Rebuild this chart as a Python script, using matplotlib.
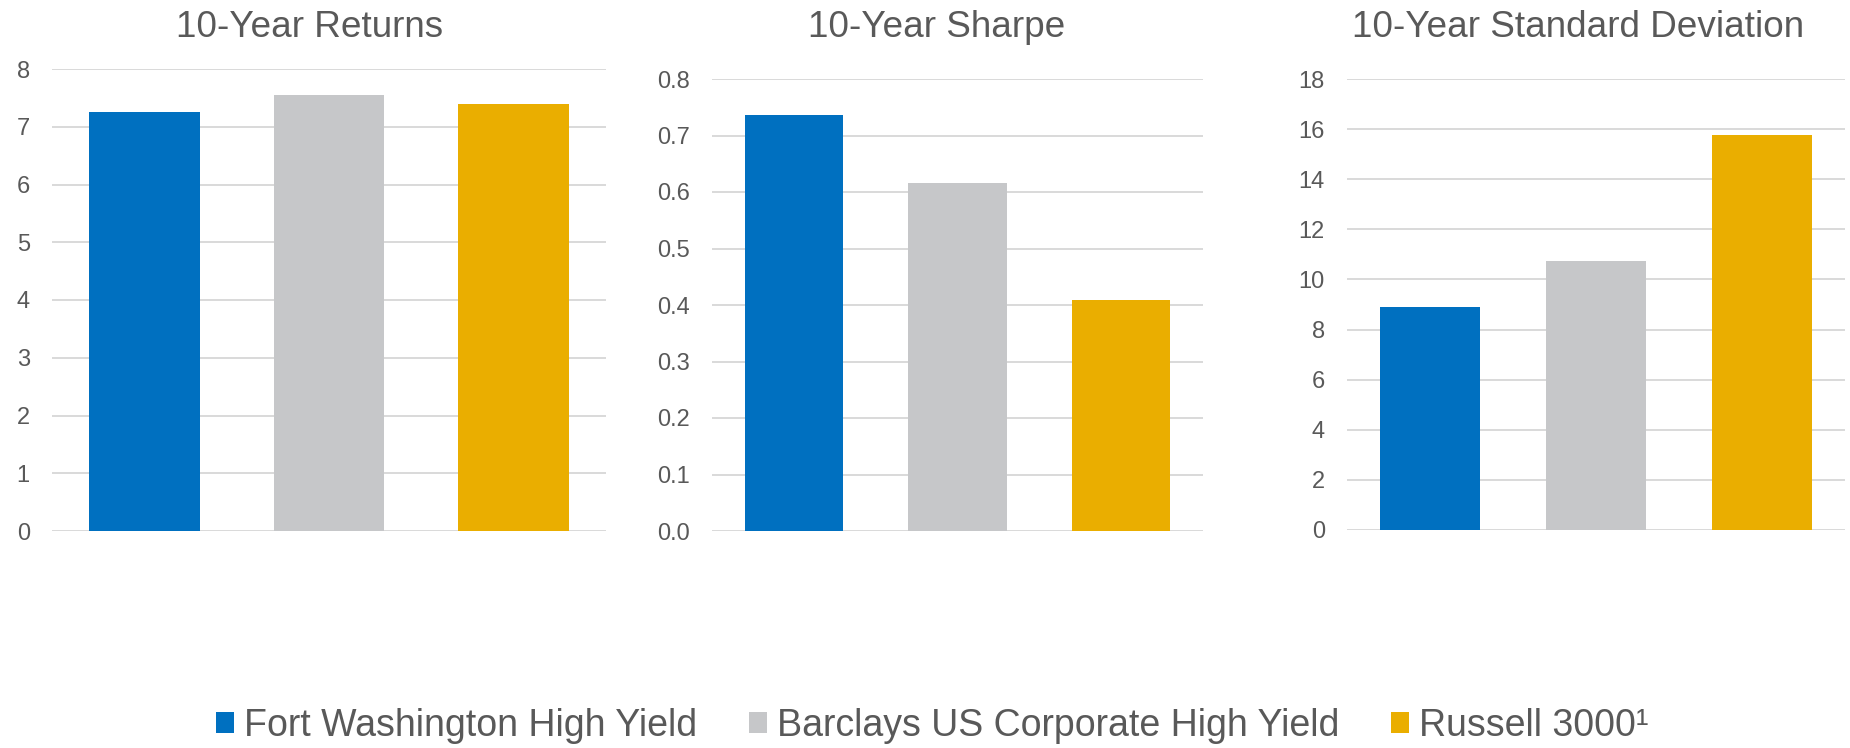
import matplotlib
matplotlib.use("Agg")
import matplotlib.pyplot as plt
from matplotlib.patches import Patch

plt.rcParams['font.family'] = ['Liberation Sans', 'DejaVu Sans']

series = ["Fort Washington High Yield", "Barclays US Corporate High Yield", "Russell 3000\u00b9"]
colors = ["#0070C0", "#C6C7C9", "#EAAE00"]

titles = ["10-Year Returns", "10-Year Sharpe", "10-Year Standard Deviation"]
returns = [7.25, 7.55, 7.40]
sharpe = [0.737, 0.616, 0.408]
stdev = [8.89, 10.73, 15.77]

ticks_returns = [0, 1, 2, 3, 4, 5, 6, 7, 8]
ticks_sharpe = [0.0, 0.1, 0.2, 0.3, 0.4, 0.5, 0.6, 0.7, 0.8]
ticks_stdev = [0, 2, 4, 6, 8, 10, 12, 14, 16, 18]
labels_sharpe = [f"{t:.1f}" for t in ticks_sharpe]

W, H = 1850, 748
fig = plt.figure(figsize=(W / 100, H / 100), dpi=100)

text_color = "#595959"
grid_color = "#D9D9D9"

# axes boxes in pixels: (left, right, bottom_y, top_y)
boxes = [(52, 606, 531, 69), (712, 1203, 531, 79), (1347, 1845, 530, 79)]
title_x = [310, 937, 1578]
data = [returns, sharpe, stdev]
ticks = [ticks_returns, ticks_sharpe, ticks_stdev]
ticklabels = [[str(t) for t in ticks_returns], labels_sharpe, [str(t) for t in ticks_stdev]]

for i in range(3):
    l, r, b, t = boxes[i]
    ax = fig.add_axes([l / W, 1 - b / H, (r - l) / W, (b - t) / H])
    x = range(len(series))
    ax.bar(x, data[i], width=0.6, color=colors, zorder=3)
    ax.set_xlim(-0.5, 2.5)
    ax.set_ylim(ticks[i][0], ticks[i][-1])
    ax.set_yticks(ticks[i])
    ax.set_yticklabels(ticklabels[i])
    ax.set_xticks([])
    for s in ax.spines.values():
        s.set_visible(False)
    ax.yaxis.grid(True, color=grid_color, linewidth=1.4, zorder=0)
    ax.tick_params(axis='y', length=0, pad=16, labelsize=17, labelcolor=text_color)
    for lbl in ax.get_yticklabels():
        lbl.set_clip_on(False)
    ax.set_axisbelow(True)
    fig.text(title_x[i] / W, 1 - 37 / H, titles[i], ha='center', va='baseline',
             fontsize=26.6, color=text_color)

handles = [Patch(facecolor=c, edgecolor='none') for c in colors]
leg = fig.legend(handles, series, loc='center', bbox_to_anchor=(932.5 / W, 1 - 726 / H),
                 ncol=3, frameon=False, fontsize=27, handlelength=0.47, handleheight=0.47,
                 handletextpad=0.28, columnspacing=1.38, borderpad=0, borderaxespad=0)
for txt in leg.get_texts():
    txt.set_color(text_color)

fig.savefig("out.png", dpi=100)
